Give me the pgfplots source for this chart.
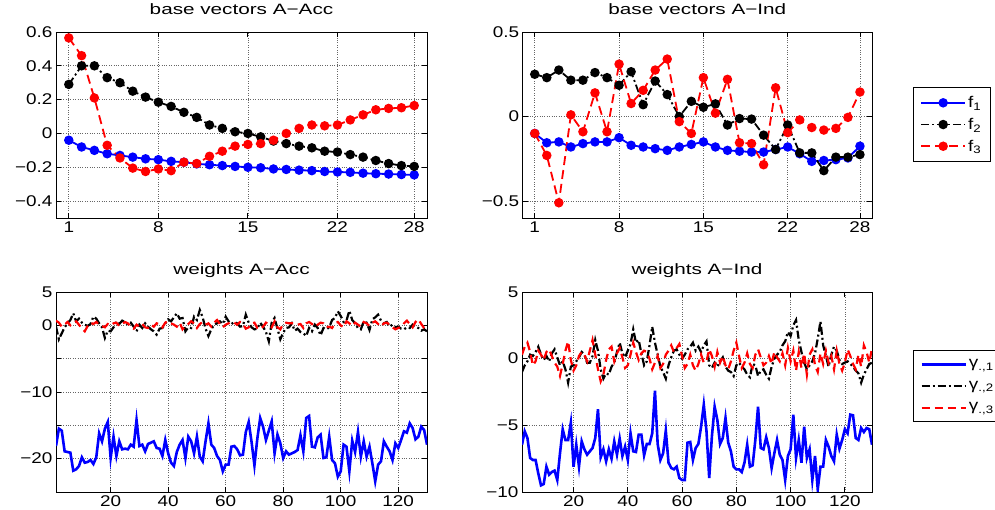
\documentclass[border=0pt]{standalone}
\usepackage{fontspec}
\setmainfont{Liberation Sans}[FakeStretch=1.22]
\newfontfamily\titlefont{Liberation Sans}[FakeStretch=1.38]
\usepackage{pgfplots}
\usepackage{pgfplotstable}
\pgfplotsset{compat=1.18}

\definecolor{mblue}{RGB}{0,0,255}
\definecolor{mred}{RGB}{255,0,0}

% base vectors, A-Acc
\pgfplotstableread{
x f1 f2 f3
1 -0.04 0.29 0.565
2 -0.08 0.40 0.46
3 -0.10 0.40 0.21
4 -0.12 0.33 -0.07
5 -0.13 0.30 -0.145
6 -0.14 0.25 -0.205
7 -0.15 0.215 -0.225
8 -0.155 0.185 -0.21
9 -0.165 0.16 -0.22
10 -0.17 0.125 -0.17
11 -0.18 0.095 -0.178
12 -0.185 0.05 -0.135
13 -0.19 0.03 -0.105
14 -0.195 0.01 -0.075
15 -0.20 0.0 -0.065
16 -0.203 -0.02 -0.06
17 -0.21 -0.045 -0.04
18 -0.213 -0.06 0.0
19 -0.217 -0.075 0.03
20 -0.22 -0.085 0.05
21 -0.225 -0.105 0.045
22 -0.228 -0.11 0.05
23 -0.23 -0.125 0.08
24 -0.235 -0.14 0.11
25 -0.238 -0.16 0.14
26 -0.24 -0.178 0.148
27 -0.243 -0.19 0.152
28 -0.245 -0.195 0.165
}\bvacc

% base vectors, A-Ind
\pgfplotstableread{
x f1 f2 f3
1 -0.10 0.25 -0.10
2 -0.155 0.23 -0.23
3 -0.15 0.275 -0.51
4 -0.18 0.215 0.01
5 -0.16 0.215 -0.09
6 -0.15 0.26 0.14
7 -0.15 0.23 -0.09
8 -0.125 0.185 0.31
9 -0.17 0.265 0.077
10 -0.18 0.07 0.155
11 -0.19 0.21 0.275
12 -0.20 0.13 0.34
13 -0.18 0.0 -0.03
14 -0.165 0.09 -0.10
15 -0.15 0.055 0.23
16 -0.18 0.075 0.02
17 -0.20 -0.05 0.22
18 -0.205 -0.012 -0.155
19 -0.21 -0.015 -0.16
20 -0.21 -0.11 -0.285
21 -0.195 -0.195 0.17
22 -0.18 -0.05 -0.095
23 -0.22 -0.215 -0.02
24 -0.265 -0.215 -0.065
25 -0.26 -0.32 -0.08
26 -0.255 -0.24 -0.07
27 -0.245 -0.24 -0.005
28 -0.175 -0.225 0.145
}\bvind

% weights, A-Acc
\pgfplotstableread{
x a b c
1 -18.1 -0.2 0.7
2 -15.5 -2.1 0.4
3 -15.8 -1.2 -0.2
4 -18.9 -0.3 0.1
5 -19.0 0.3 0.5
6 -19.1 0.8 0.0
7 -21.8 1.8 0.3
8 -21.6 0.6 0.6
9 -21.1 1.0 0.1
10 -19.8 0.4 -0.5
11 -20.6 0.1 -0.9
12 -20.5 -0.1 -0.1
13 -20.2 0.2 0.4
14 -20.8 1.3 0.2
15 -19.8 1.0 0.5
16 -16.2 0.3 0.1
17 -17.4 -0.3 -0.1
18 -15.5 -1.9 -0.3
19 -14.5 -0.8 0.2
20 -19.9 -0.9 0.0
21 -16.7 -0.3 0.3
22 -19.6 0.6 0.4
23 -17.4 0.2 -0.1
24 -18.6 0.7 0.2
25 -18.5 0.5 0.5
26 -18.6 0.1 0.3
27 -17.9 0.4 -0.2
28 -18.2 -0.2 -0.5
29 -14.2 -0.9 0.1
30 -18.1 0.1 -0.2
31 -17.9 -0.4 0.2
32 -18.9 0.3 -0.3
33 -17.8 -0.2 -0.4
34 -17.6 -0.6 0.1
35 -17.4 -0.9 -0.2
36 -18.4 -1.4 0.3
37 -18.5 -0.5 0.2
38 -19.6 -0.4 -0.3
39 -17.2 0.3 0.4
40 -19.2 0.9 0.6
41 -20.6 0.6 0.3
42 -21.1 1.2 0.1
43 -19.0 1.8 -0.2
44 -17.9 1.0 0.4
45 -17.2 1.1 -0.6
46 -19.9 -0.9 -0.1
47 -16.7 -0.3 0.2
48 -17.4 -0.4 0.6
49 -19.2 1.3 0.3
50 -16.7 0.8 -0.4
51 -19.7 2.3 0.2
52 -20.4 1.2 0.5
53 -17.4 -0.5 0.1
54 -14.7 -1.6 0.3
55 -17.9 -0.6 -0.2
56 -18.4 0.1 0.4
57 -19.6 0.3 0.8
58 -20.2 0.6 0.2
59 -21.9 0.2 -0.3
60 -20.9 1.3 0.1
61 -20.9 0.6 0.3
62 -18.2 0.2 0.5
63 -18.1 0.5 0.4
64 -18.6 0.3 0.1
65 -19.5 -0.2 0.5
66 -19.4 -0.1 0.2
67 -16.0 1.6 -0.5
68 -14.5 0.4 -0.3
69 -17.5 -0.3 0.3
70 -21.0 -0.6 0.4
71 -17.0 -0.5 -0.4
72 -13.9 0.4 -0.6
73 -15.2 -0.2 -0.2
74 -17.2 -1.0 0.4
75 -15.8 -2.4 0.1
76 -14.4 0.4 -0.3
77 -19.2 1.1 0.6
78 -16.4 -0.5 -0.3
79 -17.7 -2.1 -0.6
80 -19.9 -1.1 0.2
81 -18.9 -0.4 0.4
82 -19.4 -0.3 0.3
83 -19.2 0.3 0.3
84 -19.0 -0.8 0.3
85 -18.7 -0.5 0.1
86 -16.5 -1.0 0.2
87 -18.9 -1.2 -0.4
88 -13.9 -1.6 0.3
89 -13.6 -0.4 0.5
90 -18.2 -0.9 0.2
91 -18.3 0.1 -0.2
92 -16.8 -0.4 0.1
93 -16.4 -1.5 0.4
94 -19.9 -0.4 0.3
95 -19.8 -0.6 -0.3
96 -16.7 -0.3 -0.2
97 -20.2 0.8 -0.4
98 -20.7 1.1 0.3
99 -22.7 2.1 0.5
100 -21.9 1.4 0.0
101 -17.9 0.5 -0.3
102 -18.2 0.7 0.6
103 -21.9 2.2 0.3
104 -17.3 0.8 -0.1
105 -19.0 0.3 0.4
106 -16.0 -0.4 0.1
107 -19.7 -0.6 -0.2
108 -17.4 0.6 0.5
109 -19.7 0.4 0.3
110 -18.2 -0.7 -0.1
111 -20.7 0.9 0.4
112 -23.4 1.2 0.6
113 -20.9 1.6 0.2
114 -20.4 0.7 -0.2
115 -17.4 0.3 0.3
116 -18.2 0.5 0.4
117 -18.9 -0.2 0.1
118 -20.2 0.1 -0.3
119 -17.7 -0.3 -0.6
120 -18.4 -0.2 -0.4
121 -17.2 -0.5 -0.2
122 -15.9 -0.6 0.3
123 -16.1 -0.3 0.7
124 -14.7 -0.4 0.2
125 -15.4 0.1 -0.3
126 -17.1 -0.2 0.5
127 -16.7 -0.4 0.9
128 -15.2 -0.8 0.2
129 -15.7 -0.6 -0.4
130 -17.9 -0.9 -0.6
}\wacc

% weights, A-Ind
\pgfplotstableread{
x a b c
1 -6.45 -1.0 0.3
2 -5.45 -0.5 0.9
3 -5.95 -0.2 1.2
4 -7.45 0.3 0.5
5 -7.6 0.2 -0.5
6 -7.6 0.5 -0.2
7 -8.6 0.9 0.6
8 -9.5 0.3 0.3
9 -9.4 -0.1 -0.1
10 -8.1 0.2 0.5
11 -8.7 -0.2 0.7
12 -8.5 0.4 0.2
13 -8.4 0.7 -0.3
14 -9.1 0.1 -0.6
15 -7.1 -0.5 -1.3
16 -5.3 -0.2 -0.4
17 -6.1 -0.8 0.6
18 -6.1 -1.8 1.3
19 -4.8 -0.6 -0.1
20 -8.1 -0.5 -0.9
21 -6.45 -0.2 -0.5
22 -8.1 0.1 0.2
23 -6.2 0.5 0.5
24 -6.8 0.3 0.3
25 -7.2 -0.3 -0.2
26 -6.95 -0.3 0.6
27 -6.7 0.2 1.4
28 -5.95 1.4 0.3
29 -3.8 0.6 -0.8
30 -7.4 -0.8 -1.7
31 -6.8 -1.5 -1.2
32 -7.7 -1.1 -0.1
33 -6.8 -1.2 0.7
34 -7.5 -0.6 0.9
35 -6.2 -0.3 -0.2
36 -7.2 0.5 0.4
37 -6.0 1.2 0.8
38 -7.3 0.4 0.1
39 -6.6 0.1 -0.7
40 -7.6 0.6 -0.5
41 -5.6 1.1 0.3
42 -6.95 2.2 1.2
43 -7.0 1.2 0.5
44 -5.7 1.4 -0.1
45 -5.7 0.4 0.4
46 -7.25 -0.5 0.6
47 -6.4 -0.2 0.5
48 -6.4 1.0 0.0
49 -5.6 2.4 -0.8
50 -2.4 1.2 -0.3
51 -6.4 0.3 0.2
52 -7.6 -0.6 -0.7
53 -7.1 -1.0 -0.4
54 -5.4 -1.5 0.3
55 -7.8 -0.5 0.6
56 -8.2 0.1 1.0
57 -8.3 0.6 0.5
58 -8.1 0.7 0.8
59 -8.95 0.3 1.1
60 -9.1 0.0 0.2
61 -9.1 0.3 -0.7
62 -6.3 0.7 -0.4
63 -6.25 0.9 0.3
64 -7.6 1.2 -0.5
65 -6.7 0.6 -0.9
66 -6.4 0.9 -0.4
67 -5.1 0.5 0.3
68 -3.45 1.0 -0.3
69 -5.45 1.3 -0.2
70 -8.95 -0.5 0.7
71 -5.8 -0.7 0.2
72 -3.6 -0.3 -0.6
73 -4.6 -0.6 0.5
74 -6.4 -0.2 -0.3
75 -5.95 0.1 0.2
76 -4.45 -0.6 -0.5
77 -6.3 -0.9 -0.8
78 -6.95 -1.0 -0.2
79 -8.1 -1.3 0.6
80 -8.3 -0.5 1.2
81 -8.3 -0.3 0.2
82 -8.5 -0.6 -0.7
83 -7.8 -0.8 -0.3
84 -6.45 -1.2 0.4
85 -8.1 -1.4 -0.4
86 -8.0 -0.4 -0.7
87 -6.1 -0.5 0.3
88 -3.6 -1.3 0.7
89 -6.7 -0.9 0.1
90 -6.8 -0.8 -0.5
91 -5.9 -1.2 -0.3
92 -6.7 -1.5 0.2
93 -8.2 -0.6 -0.4
94 -7.1 0.0 0.5
95 -6.1 0.3 0.1
96 -7.2 0.5 -0.2
97 -7.6 1.0 0.4
98 -9.1 1.3 -0.5
99 -7.3 2.0 0.8
100 -6.8 1.7 -0.2
101 -4.2 2.5 0.6
102 -7.45 2.9 -0.9
103 -6.1 1.4 0.5
104 -7.8 0.5 -0.7
105 -5.1 -0.3 0.4
106 -7.45 -0.8 -1.2
107 -6.8 -0.5 0.3
108 -9.1 -0.2 0.7
109 -7.3 0.4 -0.5
110 -9.8 1.5 -1.0
111 -8.1 2.8 0.4
112 -8.1 1.0 -0.4
113 -6.1 0.2 0.6
114 -6.6 -0.6 -0.3
115 -7.3 0.3 0.2
116 -7.7 0.9 -0.8
117 -5.7 0.6 0.6
118 -6.75 -0.1 -0.4
119 -6.1 -0.4 -0.9
120 -5.3 -0.3 -0.3
121 -5.6 -0.2 0.7
122 -4.2 -0.4 0.2
123 -4.25 -0.6 -0.4
124 -5.95 -0.9 -0.8
125 -6.1 -1.1 0.3
126 -5.2 -1.8 -0.6
127 -5.5 -1.2 1.0
128 -5.2 -0.8 0.5
129 -5.3 -0.4 -0.3
130 -6.45 -0.3 0.8
}\wind

\pgfplotsset{
  mat/.style={
    scale only axis,
    axis line style={line width=0.9pt},
    tick align=inside, major tick length=5pt,
    tick style={line width=0.8pt, black},
    grid=major,
    grid style={dotted, line width=0.7pt, black!60},
    tick label style={font=\fontsize{15.5}{18}\selectfont},
    /pgf/number format/assume math mode=true,
    title style={font=\titlefont\fontsize{15}{18}\selectfont, at={(0.5,1)}, anchor=base, yshift=11pt},
    legend cell align=left,
    legend image code/.code={\draw[mark repeat=2,mark phase=2,##1] plot coordinates {(0pt,0pt) (22pt,0pt) (44pt,0pt)};},
    legend style={draw=black, line width=0.8pt, fill=white, font=\fontsize{15.5}{18}\selectfont, row sep=5pt, inner sep=7pt},
  },
  top/.style={mat, width=#1, height=186pt, xmin=0, xmax=29, xtick={1,8,15,22,28}},
  bot/.style={mat, width=#1, height=200pt, xmin=1, xmax=130, xtick={20,40,60,80,100,120}},
  sf1/.style={mblue, solid, line width=1.8pt, mark=*, mark size=3.8pt, mark options={solid, fill=mblue}},
  sf2/.style={black, line width=1.8pt, dash pattern=on 8pt off 3pt on 2pt off 3pt, mark=*, mark size=3.8pt, mark options={solid, fill=black}},
  sf3/.style={mred, line width=1.8pt, dash pattern=on 9pt off 5pt, mark=*, mark size=3.8pt, mark options={solid, fill=mred}},
  sw1/.style={mblue, solid, line width=2.6pt},
  sw2/.style={black, line width=2.2pt, dash pattern=on 8pt off 3pt on 2pt off 3pt},
  sw3/.style={mred, line width=2.2pt, dash pattern=on 8pt off 5pt},
}

\begin{document}
\begin{tikzpicture}
\path[use as bounding box] (0,0) rectangle (995pt,510pt);

\begin{axis}[top=371pt, at={(56pt,292pt)}, anchor=south west,
  title={base vectors A\textminus Acc},
  ymin=-0.5, ymax=0.6, ytick={-0.4,-0.2,0,0.2,0.4,0.6},
  yticklabels={−0.4,−0.2,0,0.2,0.4,0.6}]
\addplot[sf1] table[x=x,y=f1] {\bvacc};
\addplot[sf2] table[x=x,y=f2] {\bvacc};
\addplot[sf3] table[x=x,y=f3] {\bvacc};
\end{axis}

\begin{axis}[top=349.3pt, at={(522.7pt,292pt)}, anchor=south west,
  title={base vectors A\textminus Ind},
  ymin=-0.6, ymax=0.5, ytick={-0.5,0,0.5},
  yticklabels={−0.5,0,0.5},
  legend style={at={(1.117,0.704)}, anchor=north west}]
\addplot[sf1] table[x=x,y=f1] {\bvind};
\addplot[sf2] table[x=x,y=f2] {\bvind};
\addplot[sf3] table[x=x,y=f3] {\bvind};
\legend{f\textsubscript{1},f\textsubscript{2},f\textsubscript{3}}
\end{axis}

\begin{axis}[bot=371pt, at={(56pt,18pt)}, anchor=south west,
  title={weights A\textminus Acc},
  ymin=-25, ymax=5, ytick={-20,-15,-10,-5,0,5},
  yticklabels={−20,,−10,,0,5}]
\addplot[sw1] table[x=x,y=a] {\wacc};
\addplot[sw2] table[x=x,y=b] {\wacc};
\addplot[sw3] table[x=x,y=c] {\wacc};
\end{axis}

\begin{axis}[bot=350pt, at={(522pt,18pt)}, anchor=south west,
  title={weights A\textminus Ind},
  ymin=-10, ymax=5, ytick={-10,-5,0,5},
  yticklabels={−10,−5,0,5},
  legend style={at={(1.117,0.71)}, anchor=north west, row sep=8pt}]
\addplot[sw1] table[x=x,y=a] {\wind};
\addplot[sw2] table[x=x,y=b] {\wind};
\addplot[sw3] table[x=x,y=c] {\wind};
\legend{γ\textsubscript{.,1},γ\textsubscript{.,2},γ\textsubscript{.,3}}
\end{axis}
\end{tikzpicture}
\end{document}
